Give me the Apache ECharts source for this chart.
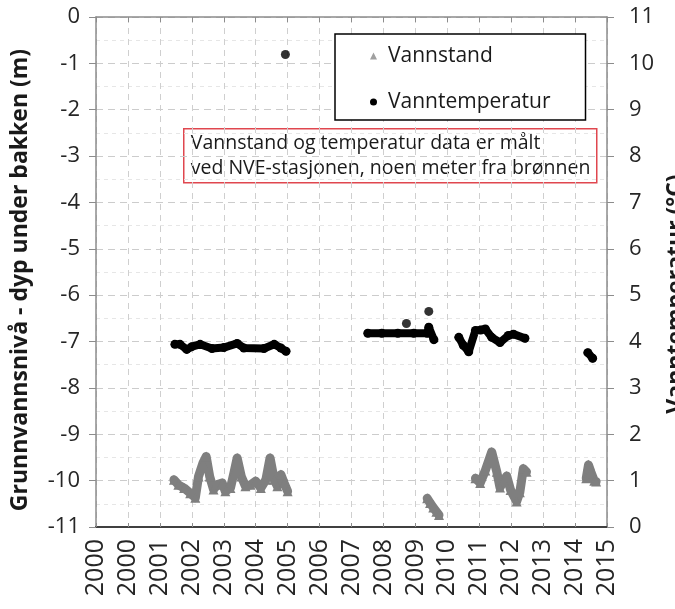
<!DOCTYPE html>
<html>
<head>
<meta charset="utf-8">
<script src="https://cdn.jsdelivr.net/npm/echarts@6/dist/echarts.min.js"></script>
<style>
  html, body { margin: 0; padding: 0; background: #fff; }
  #chart { width: 675px; height: 609px; }
</style>
</head>
<body>
<div id="chart"></div>
<script>
// Year labels on the bottom axis, one per axis unit
const xTickLabels = ['2000', '2000', '2001', '2002', '2003', '2004', '2005', '2006',
  '2007', '2008', '2009', '2010', '2011', '2012', '2013', '2014', '2015'];

// Vannstand (m under bakken), x in axis units
const vannstandA = [
  [2.44, -9.98], [2.58, -10.09], [2.76, -10.16], [2.95, -10.27], [3.11, -10.37],
  [3.21, -9.91], [3.35, -9.62], [3.45, -9.48], [3.56, -9.91], [3.68, -10.19],
  [3.79, -10.09], [3.95, -10.05], [4.05, -10.23], [4.21, -10.16], [4.32, -9.83],
  [4.42, -9.51], [4.55, -9.91], [4.68, -10.12], [4.84, -10.09], [5.00, -10.01],
  [5.16, -10.16], [5.32, -9.98], [5.45, -9.51], [5.58, -9.98], [5.68, -10.12],
  [5.79, -9.87], [5.89, -10.05], [6.00, -10.23]
];
const vannstandB = [
  [10.37, -10.38], [10.46, -10.48], [10.56, -10.58], [10.66, -10.67], [10.74, -10.74]
];
const vannstandC = [
  [11.88, -9.95], [12.03, -10.05], [12.19, -9.78], [12.39, -9.38], [12.55, -9.81],
  [12.65, -10.15], [12.76, -10.00], [12.86, -9.90], [12.98, -10.20], [13.17, -10.45],
  [13.27, -10.25], [13.38, -9.74], [13.48, -9.81]
];
const vannstandD = [
  [15.35, -9.95], [15.42, -9.66], [15.50, -9.82], [15.60, -10.00], [15.66, -10.02]
];

// Vanntemperatur (°C)
const tempA = [
  [2.47, 3.94], [2.63, 3.94], [2.84, 3.83], [3.00, 3.89], [3.26, 3.94], [3.63, 3.85],
  [4.00, 3.87], [4.42, 3.96], [4.63, 3.86], [5.26, 3.85], [5.58, 3.94], [5.79, 3.86],
  [5.95, 3.79]
];
const tempB = [
  [8.51, 4.18], [8.95, 4.18], [9.45, 4.18], [9.95, 4.18], [10.37, 4.18], [10.42, 4.31],
  [10.58, 4.04]
];
const tempC = [
  [11.36, 4.09], [11.50, 3.92], [11.67, 3.78], [11.88, 4.24], [12.05, 4.25], [12.19, 4.27],
  [12.39, 4.09], [12.65, 3.98], [12.91, 4.13], [13.07, 4.16], [13.43, 4.07]
];
const tempD = [[15.40, 3.76], [15.55, 3.64]];
const tempSingles = [[5.93, 10.19], [9.72, 4.39], [10.42, 4.65]];

const FONT = 'Open Sans';
const AXIS_GRAY = '#8c8c8c';
const LEVEL_COLOR = '#7f7f7f';
const TEXT = '#1a1a1a';

function levelSeries(data) {
  return {
    name: 'Vannstand', type: 'line', yAxisIndex: 0, data: data,
    symbol: 'triangle', symbolSize: 10, showSymbol: true,
    itemStyle: { color: LEVEL_COLOR },
    lineStyle: { color: LEVEL_COLOR, width: 9, join: 'round', cap: 'round' },
    emphasis: { disabled: true }, z: 3
  };
}
function tempSeries(data) {
  return {
    name: 'Vanntemperatur', type: 'line', yAxisIndex: 1, data: data,
    symbol: 'circle', symbolSize: 9, showSymbol: true,
    itemStyle: { color: '#000' },
    lineStyle: { color: '#000', width: 8, join: 'round', cap: 'round' },
    emphasis: { disabled: true }, z: 4
  };
}

const chart = echarts.init(document.getElementById('chart'), null, { renderer: 'canvas' });
chart.setOption({
  animation: false,
  backgroundColor: '#fff',
  grid: {
    left: 96, right: 68, top: 17, bottom: 82,
    containLabel: false, outerBoundsMode: 'none'
  },
  legend: {
    left: 335, top: 34, orient: 'vertical',
    data: [
      { name: 'Vannstand', icon: 'triangle', itemStyle: { color: '#a0a0a0' } },
      { name: 'Vanntemperatur', icon: 'circle', itemStyle: { color: '#000' } }
    ],
    itemWidth: 7, itemHeight: 7, itemGap: 22,
    padding: [10, 35, 6, 35],
    borderColor: '#000', borderWidth: 1.5, backgroundColor: '#fff',
    textStyle: { fontFamily: FONT, fontSize: 21, lineHeight: 24, color: TEXT, padding: [0, 0, 0, 6] },
    selectedMode: false, z: 10
  },
  xAxis: [{
    type: 'value', min: 0, max: 16, interval: 1, position: 'bottom',
    axisLine: { onZero: false, lineStyle: { color: '#404040', width: 2 } },
    axisTick: { show: true, inside: true, length: 4, lineStyle: { color: AXIS_GRAY } },
    axisLabel: {
      rotate: 90, margin: 12, fontFamily: FONT, fontSize: 25, color: '#262626',
      formatter: v => xTickLabels[Math.round(v)]
    },
    splitLine: { show: true, lineStyle: { color: '#cfcfcf', type: [6, 5], width: 1 } }
  }, {
    type: 'value', min: 0, max: 16, interval: 1, position: 'top',
    axisLine: { onZero: false, lineStyle: { color: AXIS_GRAY, width: 1.5 } },
    axisTick: { show: true, inside: true, length: 5, lineStyle: { color: AXIS_GRAY } },
    axisLabel: { show: false }, splitLine: { show: false }
  }],
  yAxis: [{
    type: 'value', min: -11, max: 0, interval: 1, position: 'left',
    name: 'Grunnvannsnivå - dyp under bakken (m)', nameLocation: 'middle', nameGap: 64,
    nameTextStyle: {
      fontFamily: FONT, fontSize: 23, fontWeight: 'bold', color: TEXT,
      padding: [0, 16, 0, 0]
    },
    axisLine: { show: true, onZero: false, lineStyle: { color: AXIS_GRAY, width: 1.5 } },
    axisTick: { show: true, length: 7, lineStyle: { color: AXIS_GRAY } },
    axisLabel: { margin: 16, fontFamily: FONT, fontSize: 22, color: '#262626' },
    splitLine: { show: true, lineStyle: { color: '#cccccc', type: [7, 5], width: 1 } },
    minorTick: { show: false, splitNumber: 2 },
    minorSplitLine: { show: true, lineStyle: { color: '#e6e6e6', type: [4, 4], width: 1 } }
  }, {
    type: 'value', min: 0, max: 11, interval: 1, position: 'right',
    name: 'Vanntemperatur (°C)', nameLocation: 'middle', nameGap: 50,
    nameTextStyle: {
      fontFamily: FONT, fontSize: 23, fontWeight: 'bold', color: TEXT,
      padding: [0, 44, 0, 0]
    },
    axisLine: { show: true, onZero: false, lineStyle: { color: AXIS_GRAY, width: 1.5 } },
    axisTick: { show: true, length: 7, lineStyle: { color: AXIS_GRAY } },
    axisLabel: { margin: 22, fontFamily: FONT, fontSize: 22, color: '#262626' },
    splitLine: { show: false }
  }],
  series: [
    levelSeries(vannstandA), levelSeries(vannstandB), levelSeries(vannstandC), levelSeries(vannstandD),
    tempSeries(tempA), tempSeries(tempB), tempSeries(tempC), tempSeries(tempD),
    {
      name: 'Vanntemperatur', type: 'scatter', yAxisIndex: 1, data: tempSingles,
      symbol: 'circle', symbolSize: 9, itemStyle: { color: '#000' },
      emphasis: { disabled: true }, z: 4
    }
  ],
  graphic: [{
    type: 'group', left: 183, top: 128, z: 20,
    children: [{
      type: 'rect', shape: { x: 0, y: 0, width: 413, height: 54 },
      style: { fill: '#fff', stroke: '#e0474f', lineWidth: 1.5 }
    }, {
      type: 'text', x: 7, y: 2,
      style: {
        text: 'Vannstand og temperatur data er målt\nved NVE-stasjonen, noen meter fra brønnen',
        font: '19.5px "Open Sans"', fill: TEXT, lineHeight: 25
      }
    }]
  }]
});
</script>
</body>
</html>
